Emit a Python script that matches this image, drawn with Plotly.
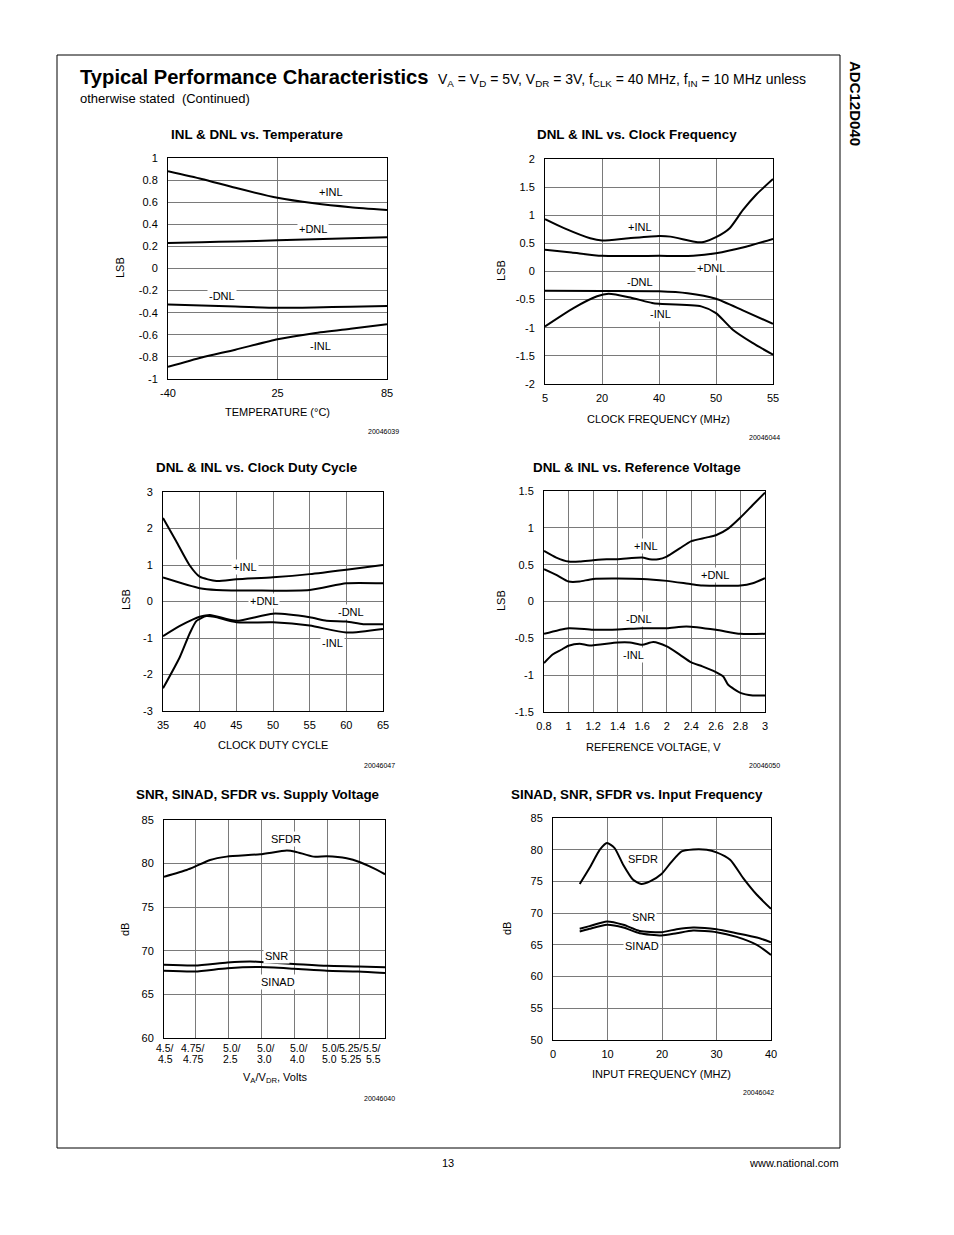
import numpy as np
import plotly.graph_objects as go

W, H = 954, 1235
FONT = "Liberation Sans, Arial, Helvetica, sans-serif"

# ---------------- DATA ----------------
# Chart 1: INL & DNL vs. Temperature
TEMP_TICKS = [-40, 25, 85]
temp_x = [-40, -20, 0, 25, 45, 65, 85]
temp_pinl = [0.88, 0.81, 0.73, 0.64, 0.59, 0.555, 0.53]
temp_pdnl = [0.23, 0.237, 0.245, 0.255, 0.265, 0.274, 0.283]
temp_ndnl = [-0.325, -0.335, -0.345, -0.355, -0.352, -0.346, -0.34]
temp_ninl = [-0.89, -0.805, -0.735, -0.64, -0.585, -0.545, -0.505]

# Chart 2: DNL & INL vs. Clock Frequency
FCLK_TICKS = [5, 20, 40, 50, 55]
fclk_pinl_x = [5, 10, 16.9, 20, 29.4, 40, 42, 46.8, 48, 50, 51.2, 52.35, 53.5, 55]
fclk_pinl = [0.93, 0.77, 0.59, 0.55, 0.59, 0.63, 0.62, 0.52, 0.53, 0.61, 0.77, 1.09, 1.36, 1.645]
fclk_pdnl_x = [5, 12, 20, 40, 46, 50, 52.35, 55]
fclk_pdnl = [0.385, 0.337, 0.278, 0.278, 0.28, 0.325, 0.426, 0.58]
fclk_ndnl_x = [5, 20, 40, 45, 50, 52.35, 55]
fclk_ndnl = [-0.343, -0.345, -0.35, -0.385, -0.485, -0.69, -0.93]
fclk_ninl_x = [5, 12.5, 18.7, 22.3, 29.4, 37.6, 40, 47.4, 50, 51.5, 53.2, 55]
fclk_ninl = [-0.976, -0.65, -0.44, -0.396, -0.456, -0.56, -0.574, -0.62, -0.74, -1.04, -1.27, -1.48]

# Chart 3: DNL & INL vs. Clock Duty Cycle
DUTY_TICKS = [35, 40, 45, 50, 55, 60, 65]
duty_pinl_x = [35, 36.8, 38.6, 40, 42.3, 45, 50, 55, 60, 65]
duty_pinl = [2.29, 1.65, 1.0, 0.68, 0.56, 0.61, 0.665, 0.75, 0.87, 1.0]
duty_pdnl_x = [35, 40, 42.3, 55, 60, 65]
duty_pdnl = [0.656, 0.363, 0.317, 0.317, 0.5, 0.5]
duty_ndnl_x = [35, 37.3, 39.1, 40, 41.4, 45, 50, 55, 57.3, 60, 62.3, 65]
duty_ndnl = [-0.95, -0.67, -0.49, -0.42, -0.37, -0.53, -0.333, -0.434, -0.53, -0.55, -0.62, -0.62]
duty_ninl_x = [35, 37.3, 38.65, 39.57, 40.9, 42, 45, 50, 55, 60, 65]
duty_ninl = [-2.38, -1.52, -0.87, -0.53, -0.40, -0.42, -0.57, -0.57, -0.66, -0.85, -0.75]

# Chart 4: DNL & INL vs. Reference Voltage
VREF_TICKS = [0.8, 1, 1.2, 1.4, 1.6, 2, 2.4, 2.6, 2.8, 3]
vref_pinl_x = [0.8, 0.9, 1.0, 1.09, 1.2, 1.31, 1.4, 1.6, 1.72, 1.86, 2.0, 2.21, 2.4, 2.52, 2.6, 2.7, 2.8, 2.9, 3.0]
vref_pinl = [0.687, 0.596, 0.542, 0.542, 0.56, 0.574, 0.574, 0.596, 0.574, 0.574, 0.61, 0.72, 0.82, 0.867, 0.90, 0.99, 1.14, 1.31, 1.478]
vref_pdnl_x = [0.8, 0.9, 1.0, 1.09, 1.2, 1.6, 2.0, 2.4, 2.49, 2.8, 2.9, 3.0]
vref_pdnl = [0.438, 0.361, 0.271, 0.271, 0.307, 0.307, 0.28, 0.235, 0.217, 0.217, 0.248, 0.316]
vref_ndnl_x = [0.8, 1.0, 1.2, 1.4, 1.6, 2.0, 2.32, 2.6, 2.8, 3.0]
vref_ndnl = [-0.439, -0.362, -0.384, -0.38, -0.362, -0.362, -0.339, -0.384, -0.439, -0.439]
vref_ninl_x = [0.8, 0.87, 0.94, 1.0, 1.09, 1.17, 1.4, 1.5, 1.6, 1.78, 2.0, 2.21, 2.4, 2.49, 2.6, 2.66, 2.7, 2.8, 2.9, 3.0]
vref_ninl = [-0.836, -0.72, -0.655, -0.60, -0.574, -0.597, -0.556, -0.556, -0.588, -0.55, -0.61, -0.72, -0.827, -0.88, -0.958, -1.017, -1.13, -1.24, -1.275, -1.275]

# Chart 5: SNR, SINAD, SFDR vs. Supply Voltage (x = supply setting index)
SUPPLY_VA = ["4.5/", "4.75/", "5.0/", "5.0/", "5.0/", "5.0/", "5.25/", "5.5/"]
SUPPLY_VDR = ["4.5", "4.75", "2.5", "3.0", "4.0", "5.0", "5.25", "5.5"]
sup_sfdr_x = [0, 0.72, 0.98, 1.45, 1.96, 2.96, 3.76, 4.02, 4.58, 4.99, 5.60, 6.02, 6.54, 7]
sup_sfdr = [78.5, 79.27, 79.65, 80.42, 80.8, 81.07, 81.49, 81.37, 80.8, 80.84, 80.61, 80.15, 79.47, 78.78]
sup_snr_x = [0, 0.98, 1.98, 2.66, 3.47, 3.97, 4.99, 5.96, 7.0]
sup_snr = [68.4, 68.32, 68.66, 68.78, 68.6, 68.5, 68.28, 68.2, 68.1]
sup_sinad_x = [0, 0.98, 1.98, 2.95, 3.97, 4.99, 5.96, 7.0]
sup_sinad = [67.71, 67.63, 68.0, 68.13, 67.94, 67.71, 67.63, 67.44]

# Chart 6: SINAD, SNR, SFDR vs. Input Frequency
fin_sfdr_x = [4.9, 6.7, 8.6, 9.9, 11.3, 12.9, 14.7, 16.2, 17.8, 19.9, 21.7, 23.6, 25.7, 28.2, 30.0, 32.5, 34.9, 37.4, 40.0]
fin_sfdr = [74.58, 77.1, 80.0, 81.05, 80.26, 77.6, 75.26, 74.6, 75.0, 76.16, 78.05, 79.74, 80.05, 80.0, 79.58, 78.42, 75.53, 72.9, 70.68]
fin_x = [4.9, 6.7, 9.9, 12.9, 15.9, 19.9, 22.7, 25.7, 30.0, 33.7, 37.4, 40.0]
fin_snr = [67.53, 67.95, 68.68, 68.16, 67.2, 67.0, 67.47, 67.74, 67.47, 66.84, 66.16, 65.42]
fin_sinad = [67.1, 67.53, 68.16, 67.74, 66.84, 66.47, 66.84, 67.26, 67.0, 66.26, 65.0, 63.42]

# ---------------- LAYOUT HELPERS ----------------
def px(x):
    return x / W

def py(y):
    return 1 - y / H

def pos(vals, ticks):
    """Map values onto the equally spaced tick grid (axis drawn in tick-index units)."""
    return list(np.interp(vals, ticks, range(len(ticks))))

def lbl(v):
    return f"{v:g}"

fig = go.Figure()

LINE = dict(color="black", width=2, shape="spline", smoothing=0.6)

def add(i, x, y):
    fig.add_trace(go.Scatter(x=x, y=y, mode="lines", line=LINE, xaxis=f"x{i}", yaxis=f"y{i}",
                             showlegend=False, hoverinfo="skip"))

# plot areas in pixels (left, right, top, bottom)
BOX = {
    1: (168, 387, 158, 379),
    2: (545, 773, 159, 384),
    3: (163, 383, 492, 711),
    4: (544, 765, 491, 712),
    5: (164, 385, 820, 1038),
    6: (553, 771, 818, 1040),
}

AX = dict(showline=True, linecolor="black", linewidth=1, mirror=True, showgrid=True,
          gridcolor="#7a7a7a", gridwidth=1.2, zeroline=False, ticks="", automargin=False,
          tickfont=dict(family=FONT, size=11, color="black"))

# chart 1
add(1, pos(temp_x, TEMP_TICKS), temp_pinl)
add(1, pos(temp_x, TEMP_TICKS), temp_pdnl)
add(1, pos(temp_x, TEMP_TICKS), temp_ndnl)
add(1, pos(temp_x, TEMP_TICKS), temp_ninl)
# chart 2
add(2, pos(fclk_pinl_x, FCLK_TICKS), fclk_pinl)
add(2, pos(fclk_pdnl_x, FCLK_TICKS), fclk_pdnl)
add(2, pos(fclk_ndnl_x, FCLK_TICKS), fclk_ndnl)
add(2, pos(fclk_ninl_x, FCLK_TICKS), fclk_ninl)
# chart 3
add(3, duty_pinl_x, duty_pinl)
add(3, duty_pdnl_x, duty_pdnl)
add(3, duty_ndnl_x, duty_ndnl)
add(3, duty_ninl_x, duty_ninl)
# chart 4
add(4, pos(vref_pinl_x, VREF_TICKS), vref_pinl)
add(4, pos(vref_pdnl_x, VREF_TICKS), vref_pdnl)
add(4, pos(vref_ndnl_x, VREF_TICKS), vref_ndnl)
add(4, pos(vref_ninl_x, VREF_TICKS), vref_ninl)
# chart 5 - last setting is drawn closer (as in original)
SUP_AXPOS = [0, 0.97, 1.97, 3.0, 4.02, 5.02, 6.02, 6.8]
sup_idx = list(range(len(SUPPLY_VA)))
add(5, list(np.interp(sup_sfdr_x, sup_idx, SUP_AXPOS)), sup_sfdr)
add(5, list(np.interp(sup_snr_x, sup_idx, SUP_AXPOS)), sup_snr)
add(5, list(np.interp(sup_sinad_x, sup_idx, SUP_AXPOS)), sup_sinad)
# chart 6
add(6, fin_sfdr_x, fin_sfdr)
add(6, fin_x, fin_snr)
add(6, fin_x, fin_sinad)

layout = dict(width=W, height=H, margin=dict(l=0, r=0, t=0, b=0, pad=0, autoexpand=False),
              paper_bgcolor="white", plot_bgcolor="white", showlegend=False)

Y1 = [-1, -0.8, -0.6, -0.4, -0.2, 0, 0.2, 0.4, 0.6, 0.8, 1]
Y2 = [-2, -1.5, -1, -0.5, 0, 0.5, 1, 1.5, 2]
Y3 = [-3, -2, -1, 0, 1, 2, 3]
Y4 = [-1.5, -1, -0.5, 0, 0.5, 1, 1.5]
Y5 = [60, 65, 70, 75, 80, 85]
Y6 = [50, 55, 60, 65, 70, 75, 80, 85]
FIN_TICKS = [0, 10, 20, 30, 40]

xcfg = {
    1: dict(range=[0, 2], tickvals=[0, 1, 2], ticktext=[lbl(t) for t in TEMP_TICKS]),
    2: dict(range=[0, 4], tickvals=list(range(5)), ticktext=[lbl(t) for t in FCLK_TICKS]),
    3: dict(range=[35, 65], tickvals=DUTY_TICKS, ticktext=[lbl(t) for t in DUTY_TICKS]),
    4: dict(range=[0, 9], tickvals=list(range(10)), ticktext=[lbl(t) for t in VREF_TICKS]),
    5: dict(range=[0, 6.8], tickvals=SUP_AXPOS, showticklabels=False),
    6: dict(range=[0, 40], tickvals=FIN_TICKS, ticktext=[lbl(t) for t in FIN_TICKS]),
}
ycfg = {}
for i, yt in zip(range(1, 7), [Y1, Y2, Y3, Y4, Y5, Y6]):
    ycfg[i] = dict(range=[yt[0], yt[-1]], tickvals=yt, ticktext=[lbl(t) for t in yt])

for i, (l, r, t, b) in BOX.items():
    xa = dict(AX, domain=[px(l), px(r)], anchor=f"y{i}", ticklabelstandoff=4, **xcfg[i])
    ya = dict(AX, domain=[py(b), py(t)], anchor=f"x{i}", ticklabelstandoff=7, **ycfg[i])
    layout[f"xaxis{i}" if i > 1 else "xaxis"] = xa
    layout[f"yaxis{i}" if i > 1 else "yaxis"] = ya

fig.update_layout(**layout)

ann = []

def text(x, y, s, size=11, bold=False, anchor="center", angle=0, bg=None):
    d = dict(x=px(x), y=py(y), xref="paper", yref="paper",
             text=(f"<b>{s}</b>" if bold else s),
             showarrow=False, xanchor=anchor, yanchor="middle", textangle=angle,
             font=dict(family=FONT, size=size, color="black"))
    if bg:
        d["bgcolor"] = bg
        d["borderpad"] = 1
    ann.append(d)

# page header
text(78, 77, "Typical Performance Characteristics", size=20.2, bold=True, anchor="left")
text(436, 80, "V<sub>A</sub> = V<sub>D</sub> = 5V, V<sub>DR</sub> = 3V, f<sub>CLK</sub> = 40 MHz, "
              "f<sub>IN</sub> = 10 MHz unless", size=14, anchor="left")
text(78, 98, "otherwise stated  (Continued)", size=13, anchor="left")
text(856, 103, "ADC12D040", size=15, bold=True, angle=90)
text(448, 1163, "13", size=11)
text(841, 1163, "www.national.com", size=11, anchor="right")

# chart titles
TS = 13.4
text(257, 134, "INL &amp; DNL vs. Temperature", size=TS, bold=True)
text(637, 134, "DNL &amp; INL vs. Clock Frequency", size=TS, bold=True)
text(256, 467, "DNL &amp; INL vs. Clock Duty Cycle", size=TS, bold=True)
text(637, 467, "DNL &amp; INL vs. Reference Voltage", size=TS, bold=True)
text(257, 794, "SNR, SINAD, SFDR vs. Supply Voltage", size=TS, bold=True)
text(637, 794, "SINAD, SNR, SFDR vs. Input Frequency", size=TS, bold=True)

# axis titles
text(277, 412, "TEMPERATURE (°C)")
text(120, 268, "LSB", angle=-90)
text(658, 419, "CLOCK FREQUENCY (MHz)")
text(501, 271, "LSB", angle=-90)
text(273, 745, "CLOCK DUTY CYCLE")
text(126, 600, "LSB", angle=-90)
text(653, 747, "REFERENCE VOLTAGE, V")
text(501, 601, "LSB", angle=-90)
text(275, 1078, "V<sub>A</sub>/V<sub>DR</sub>, Volts")
text(125, 930, "dB", angle=-90)
text(661, 1074, "INPUT FREQUENCY (MHZ)")
text(507, 929, "dB", angle=-90)

# supply-voltage tick labels (two tight lines, last two nudged as in original)
SUP_LABEL_X1 = [165, 192, 232, 266, 299, 331, 350, 372]
SUP_LABEL_X2 = [165, 193, 230, 264, 297, 329, 351, 373]
for x1, x2, a, b in zip(SUP_LABEL_X1, SUP_LABEL_X2, SUPPLY_VA, SUPPLY_VDR):
    text(x1, 1048, a, size=10.5)
    text(x2, 1059, b, size=10.5)

# figure ids
for x, y, s in [(401, 432, "20046039"), (782, 437, "20046044"), (397, 765, "20046047"),
                (782, 766, "20046050"), (397, 1098, "20046040"), (776, 1092, "20046042")]:
    text(x, y, s, size=7, anchor="right")

# curve labels
for x, y, s in [(331, 192, "+INL"), (313, 229, "+DNL"), (222, 296, "-DNL"), (320, 346, "-INL"),
                (640, 227, "+INL"), (711, 268, "+DNL"), (640, 282, "-DNL"), (660, 314, "-INL"),
                (245, 567, "+INL"), (264, 601, "+DNL"), (351, 612, "-DNL"), (332, 643, "-INL"),
                (646, 546, "+INL"), (715, 575, "+DNL"), (639, 619, "-DNL"), (633, 655, "-INL"),
                (286, 839, "SFDR"), (276, 956, "SNR"), (278, 982, "SINAD"),
                (643, 859, "SFDR"), (643, 917, "SNR"), (642, 946, "SINAD")]:
    text(x, y, s, size=11, bg="white")

fig.update_layout(annotations=ann)

# page border
fig.add_shape(type="rect", xref="paper", yref="paper", x0=px(57), x1=px(840), y0=py(1148), y1=py(55),
              line=dict(color="black", width=1), fillcolor="rgba(0,0,0,0)", layer="below")

fig.write_html("out.html", config={"displayModeBar": False},
               post_script="document.body.style.margin='0';document.body.style.padding='0';")
